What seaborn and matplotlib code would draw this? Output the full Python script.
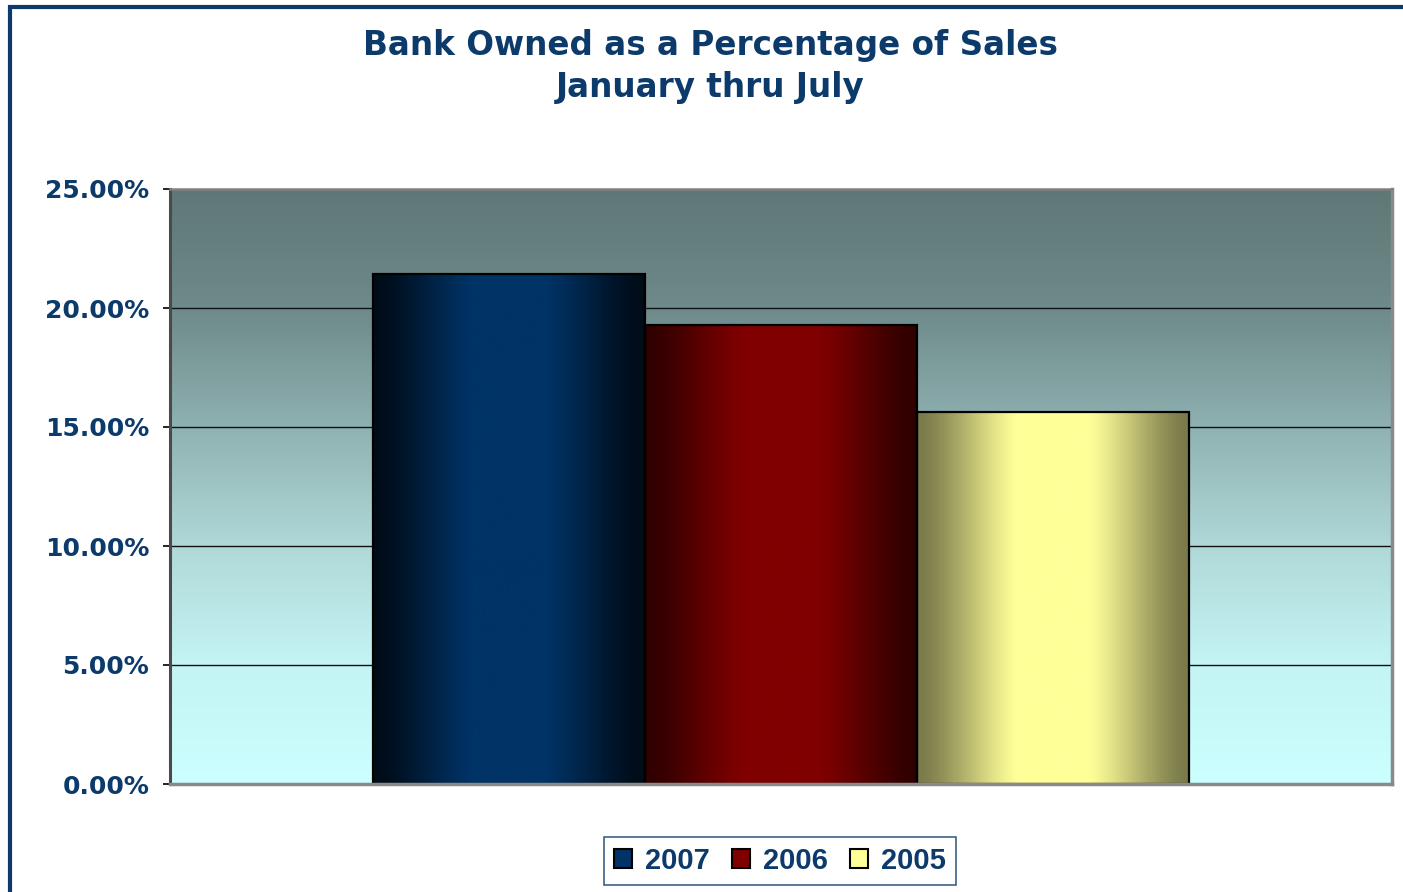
import numpy as np
import pandas as pd
import matplotlib
matplotlib.use("Agg")
import matplotlib.pyplot as plt
from matplotlib.colors import LinearSegmentedColormap, to_rgb
from matplotlib.patches import Rectangle
import seaborn as sns

# ---- data ----
years = ["2007", "2006", "2005"]
values = [21.43, 19.29, 15.63]          # percent
ytick_values = [0, 5, 10, 15, 20, 25]
title_lines = ["Bank Owned as a Percentage of Sales", "January thru July"]

# ---- style ----
sns.set_theme(style="white")
plt.rcParams['font.family'] = ['DejaVu Sans']
navy = "#0b3a6b"
bar_center = {"2007": "#003366", "2006": "#800000", "2005": "#ffff99"}
bar_edge = {"2007": "#000c18", "2006": "#300000", "2005": "#7a7a4a"}

W, H = 1403, 892
fig = plt.figure(figsize=(W / 100, H / 100), dpi=100)
fig.patch.set_facecolor("white")

ax = fig.add_axes([170 / W, 1 - 784 / H, (1392 - 170) / W, (784 - 189) / H])

df = pd.DataFrame({"cat": [""] * len(years), "year": years, "value": values})
sns.barplot(data=df, x="cat", y="value", hue="year", hue_order=years,
            palette=[bar_center[y] for y in years], width=0.667,
            edgecolor="black", linewidth=1.6, ax=ax, legend=False, zorder=3)

ax.set_xlim(-0.5, 0.5)
ax.set_ylim(0, 25)

# background gradient
bg = LinearSegmentedColormap.from_list(
    "bg", [(0.0, "#ccffff"), (0.2, "#c4f4f4"), (0.4, "#b0d8d8"),
           (0.6, "#8fb1b1"), (0.8, "#6e8a8a"), (1.0, "#5f7777")])
grad = np.linspace(0, 1, 256).reshape(-1, 1)
ax.imshow(grad, cmap=bg, origin="lower", extent=[-0.5, 0.5, 0, 25],
          aspect="auto", zorder=0, interpolation="bicubic")

# gridlines
for v in ytick_values[1:-1]:
    ax.axhline(v, color="#111111", lw=1.0, zorder=1)

# bar gradients
t = np.linspace(0, 1, 300)
prof = np.clip(np.sin(np.pi * t) * 1.1, 0, 1) ** 1.5
for patch, yr in zip(ax.patches, years):
    x0, y0 = patch.get_x(), patch.get_y()
    w, h = patch.get_width(), patch.get_height()
    c1 = np.array(to_rgb(bar_edge[yr]))
    c2 = np.array(to_rgb(bar_center[yr]))
    img = (c1[None, :] * (1 - prof[:, None]) + c2[None, :] * prof[:, None])[None, :, :]
    im = ax.imshow(img, extent=[x0, x0 + w, y0, y0 + h], aspect="auto",
                   zorder=2.5, interpolation="bicubic")
    im.set_clip_path(patch)
    patch.set_facecolor("none")

ax.set_xlim(-0.5, 0.5)
ax.set_ylim(0, 25)

# axes styling
ax.set_xlabel("")
ax.set_ylabel("")
ax.set_xticks([])
ax.set_yticks(ytick_values)
ax.set_yticklabels([f"{v:.2f}%" for v in ytick_values], fontsize=18,
                   fontweight="bold", color=navy)
ax.tick_params(axis="y", left=True, length=5, width=1.2, color="black", pad=10)
ax.spines["left"].set_color("#4a4a4a")
ax.spines["left"].set_linewidth(2.2)
ax.spines["top"].set_color("#808080")
ax.spines["top"].set_linewidth(1.8)
for s in ["right", "bottom"]:
    ax.spines[s].set_color("#8a8a8a")
    ax.spines[s].set_linewidth(2.5)
for s in ax.spines.values():
    s.set_zorder(5)

# title
title_font = dict(family=["DejaVu Sans"], fontsize=23.5,
                  fontweight="bold", color=navy, ha="center", va="baseline")
fig.text(710 / W, 1 - 55 / H, title_lines[0], **title_font)
fig.text(710 / W, 1 - 97 / H, title_lines[1], **title_font)

# legend
handles = [Rectangle((0, 0), 1, 1, facecolor=bar_center[y], edgecolor="black", lw=1.5)
           for y in years]
leg = fig.legend(handles, years, loc="center", bbox_to_anchor=(780 / W, 1 - 861 / H),
                 ncol=3, frameon=True, fancybox=False, handlelength=0.62,
                 handleheight=0.62, handletextpad=0.45, columnspacing=0.75,
                 borderpad=0.35, borderaxespad=0,
                 prop={"family": ["Liberation Sans", "DejaVu Sans"],
                       "size": 21, "weight": "bold"})
for txt in leg.get_texts():
    txt.set_color(navy)
leg.get_frame().set_edgecolor(navy)
leg.get_frame().set_linewidth(1.2)

# outer chart frame
fig.patches.append(Rectangle((10 / W, -0.05), 1.2, (1 - 7 / H) + 0.05,
                             transform=fig.transFigure, fill=False,
                             edgecolor=navy, lw=3, zorder=10))

fig.savefig("out.png", dpi=100)
